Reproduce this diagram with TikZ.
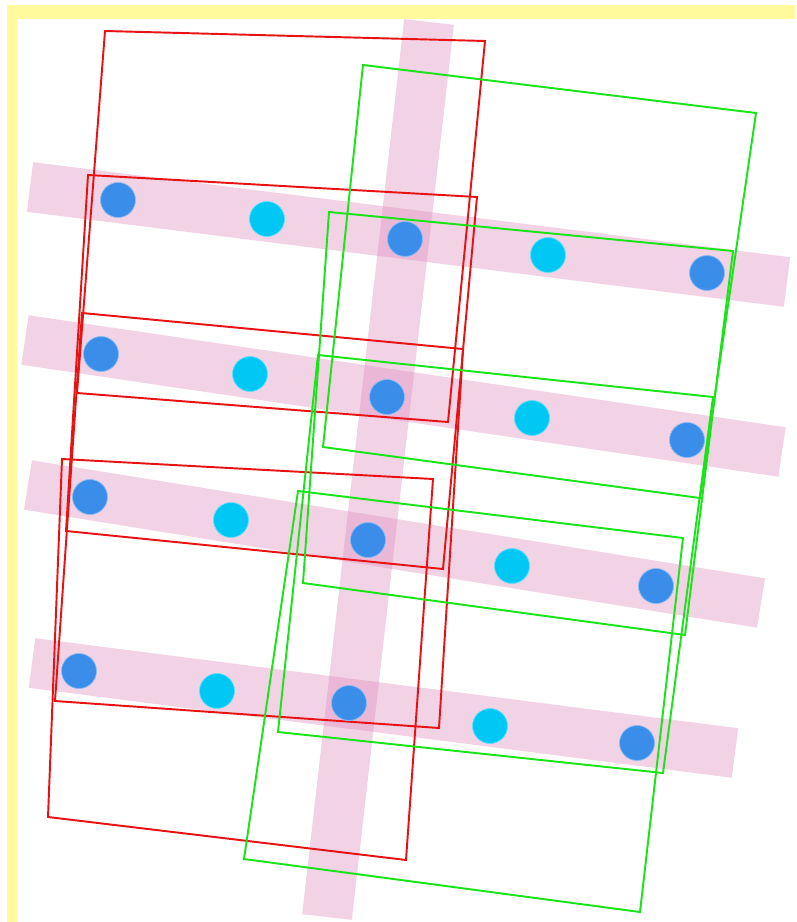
\documentclass[tikz,border=0pt]{standalone}
\usepackage{tikz}
\usetikzlibrary{calc}
\usepackage{xcolor}
\definecolor{frameyel}{RGB}{255,250,155}
\definecolor{barpink}{RGB}{225,150,195}
\definecolor{dotblue}{RGB}{58,142,234}
\definecolor{dotcyan}{RGB}{0,200,245}
\definecolor{boxred}{RGB}{232,18,18}
\definecolor{boxgreen}{RGB}{24,228,24}
\tikzset{
  strip/.style={line width=1cm, line cap=butt, draw=barpink, draw opacity=0.42},
  bdot/.style={circle, fill=dotblue, draw=dotblue!60!white, thin, minimum size=0.7cm, inner sep=0pt},
  cdot/.style={circle, fill=dotcyan, draw=dotcyan!60!white, thin, minimum size=0.7cm, inner sep=0pt},
  redbox/.style={draw=boxred, line width=1.1pt, line join=miter},
  greenbox/.style={draw=boxgreen, line width=1.1pt, line join=miter},
}

\begin{document}
\begin{tikzpicture}[x=0.02cm, y=-0.02cm]
  \useasboundingbox (0,0) rectangle (796,922);
  \fill[white] (0,0) rectangle (796,922);
  % frame
  \fill[frameyel] (7,5) rectangle (795,19);
  \fill[frameyel] (7,5) rectangle (17,922);
  % strips
  \coordinate (s1a) at (30,187);  \coordinate (s1b) at (787,282);
  \coordinate (s2a) at (25,340);  \coordinate (s2b) at (782,452);
  \coordinate (s3a) at (28,485);  \coordinate (s3b) at (761,603);
  \coordinate (s4a) at (32,663);  \coordinate (s4b) at (735,753);
  \coordinate (sva) at (429,22);  \coordinate (svb) at (327,917);
  \draw[strip] (s1a) -- (s1b);
  \draw[strip] (s2a) -- (s2b);
  \draw[strip] (s3a) -- (s3b);
  \draw[strip] (s4a) -- (s4b);
  \draw[strip] (sva) -- (svb);
  % red boxes
  \draw[redbox] (105,31) -- (485,41) -- (448,422) -- (77,393) -- cycle;
  \draw[redbox] (88,175) -- (477,197) -- (443,569) -- (66,531) -- cycle;
  \draw[redbox] (82,313) -- (463,349) -- (439,728) -- (55,701) -- cycle;
  \draw[redbox] (62,459) -- (433,479) -- (406,860) -- (48,817) -- cycle;
  % green boxes
  \draw[greenbox] (363,65) -- (756,113) -- (700,498) -- (323,447) -- cycle;
  \draw[greenbox] (329,212) -- (733,251) -- (685,635) -- (303,583) -- cycle;
  \draw[greenbox] (318,355) -- (713,397) -- (663,773) -- (278,732) -- cycle;
  \draw[greenbox] (298,491) -- (683,538) -- (640,912) -- (244,859) -- cycle;
  % row 1
  \node[bdot] (p11) at (118,200) {};
  \node[cdot] (p12) at (267,219) {};
  \node[bdot] (p13) at (405,239) {};
  \node[cdot] (p14) at (548,255) {};
  \node[bdot] (p15) at (707,273) {};
  % row 2
  \node[bdot] (p21) at (101,354) {};
  \node[cdot] (p22) at (250,374) {};
  \node[bdot] (p23) at (387,397) {};
  \node[cdot] (p24) at (532,418) {};
  \node[bdot] (p25) at (687,440) {};
  % row 3
  \node[bdot] (p31) at (90,497) {};
  \node[cdot] (p32) at (231,520) {};
  \node[bdot] (p33) at (368,540) {};
  \node[cdot] (p34) at (512,566) {};
  \node[bdot] (p35) at (656,586) {};
  % row 4
  \node[bdot] (p41) at (79,671) {};
  \node[cdot] (p42) at (217,691) {};
  \node[bdot] (p43) at (349,703) {};
  \node[cdot] (p44) at (490,726) {};
  \node[bdot] (p45) at (637,743) {};
\end{tikzpicture}
\end{document}
